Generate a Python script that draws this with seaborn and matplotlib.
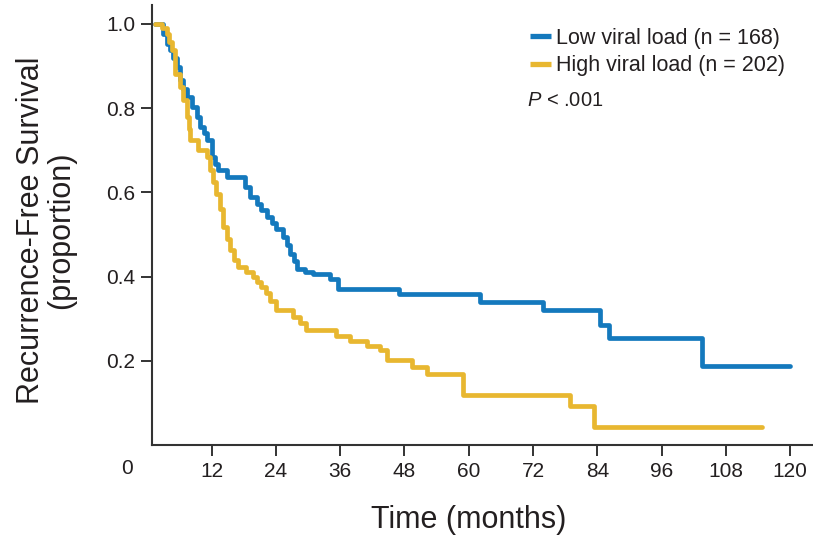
import matplotlib
matplotlib.use("Agg")
import matplotlib.pyplot as plt
from matplotlib.lines import Line2D
import seaborn as sns
import pandas as pd

# ---- data ----
low_time = [1.4, 3.0, 3.6, 4.2, 4.8, 5.5, 6.1, 6.7, 7.3, 8.3, 9.2, 9.8, 10.5, 11.1, 12.0,
            12.6, 13.2, 14.8, 18.2, 19.2, 20.4, 21.3, 22.3, 23.2, 24.1, 25.4, 26.0, 26.6,
            27.3, 27.9, 29.5, 31.0, 34.1, 35.6, 46.9, 62.1, 73.9, 84.5, 86.2, 103.5, 120.0]
low_surv = [1.0, 0.977, 0.953, 0.937, 0.92, 0.897, 0.866, 0.846, 0.826, 0.803, 0.779, 0.755,
            0.74, 0.724, 0.684, 0.668, 0.652, 0.636, 0.613, 0.59, 0.573, 0.557, 0.541,
            0.527, 0.514, 0.494, 0.474, 0.454, 0.436, 0.419, 0.41, 0.405, 0.395, 0.371,
            0.359, 0.339, 0.32, 0.286, 0.255, 0.187, 0.187]

high_time = [1.4, 2.7, 3.6, 4.0, 4.5, 5.2, 6.1, 6.7, 7.3, 7.7, 8.0, 9.5, 11.1, 11.7, 12.3,
             12.9, 13.5, 14.2, 14.8, 15.4, 16.2, 17.0, 18.5, 19.8, 20.5, 21.3, 22.1, 22.9,
             24.1, 27.2, 28.5, 29.7, 35.3, 37.8, 41.0, 43.4, 44.7, 49.4, 52.2, 59.0, 78.9,
             83.4, 114.7]
high_surv = [1.0, 0.99, 0.977, 0.957, 0.937, 0.882, 0.85, 0.819, 0.779, 0.75, 0.724, 0.70,
             0.684, 0.653, 0.625, 0.597, 0.56, 0.518, 0.49, 0.462, 0.44, 0.423, 0.41,
             0.399, 0.387, 0.375, 0.36, 0.343, 0.32, 0.304, 0.29, 0.272, 0.26, 0.248,
             0.236, 0.225, 0.201, 0.185, 0.168, 0.118, 0.0915, 0.042, 0.042]

groups = ["Low viral load (n = 168)", "High viral load (n = 202)"]
colors = ["#1479bd", "#e8b730"]
x_ticks = [12, 24, 36, 48, 60, 72, 84, 96, 108, 120]
y_ticks = [0.2, 0.4, 0.6, 0.8, 1.0]
y_tick_labels = ["0.2", "0.4", "0.6", "0.8", "1.0"]

df = pd.concat([
    pd.DataFrame({"time": low_time, "surv": low_surv, "group": groups[0]}),
    pd.DataFrame({"time": high_time, "surv": high_surv, "group": groups[1]}),
], ignore_index=True)

sns.set_style("ticks")
plt.rcParams["font.family"] = ["Liberation Sans", "DejaVu Sans"]
plt.rcParams["mathtext.fontset"] = "custom"
plt.rcParams["mathtext.it"] = "Liberation Sans:italic"
plt.rcParams["mathtext.rm"] = "Liberation Sans"

W, H = 813, 538
fig = plt.figure(figsize=(W / 100, H / 100), dpi=100)
left_px, right_px, top_px, bottom_px = 151.7, 812, 5, 445
aw, ah = right_px - left_px, bottom_px - top_px
ax = fig.add_axes([left_px / W, 1 - bottom_px / H, aw / W, ah / H])

sns.lineplot(data=df, x="time", y="surv", hue="group", palette=dict(zip(groups, colors)),
             drawstyle="steps-post", estimator=None, sort=True, linewidth=3.4,
             legend=False, ax=ax)

ax.set_xlim(0.8, 124.1)
ax.set_ylim(0, 1.045)
ax.set_xticks(x_ticks)
ax.set_xticklabels([str(t) for t in x_ticks])
ax.set_yticks(y_ticks)
ax.set_yticklabels(y_tick_labels)
txtcol = "#231f20"
ax.tick_params(axis="both", direction="out", length=8, width=1.4, color="#333333",
               labelsize=15, labelcolor=txtcol)
ax.tick_params(axis="x", pad=4)
ax.tick_params(axis="y", pad=4)
for s in ["top", "right"]:
    ax.spines[s].set_visible(False)
for s in ["left", "bottom"]:
    ax.spines[s].set_linewidth(1.5)
    ax.spines[s].set_color("#333333")

ax.set_xlabel("Time (months)", fontsize=22, color=txtcol)
ax.xaxis.label.set_va("center")
ax.xaxis.set_label_coords((469 - left_px) / aw, (bottom_px - 520) / ah)
ax.set_ylabel("Recurrence-Free Survival\n(proportion)", fontsize=22, color=txtcol,
              linespacing=1.0)
ax.yaxis.label.set_va("center")
ax.yaxis.set_label_coords((46 - left_px) / aw, (bottom_px - 230) / ah)

fig.text(127 / W, 1 - 468 / H, "0", ha="center", va="center", fontsize=15, color=txtcol)

handles = [Line2D([0], [0], color=c, lw=3.8, solid_capstyle="butt") for c in colors]
leg = ax.legend(handles, groups, loc="upper left",
                bbox_to_anchor=((519 - left_px) / aw, (bottom_px - 17) / ah),
                frameon=False, borderpad=0, handlelength=1.0, handletextpad=0.2,
                labelspacing=0.3, prop={"size": 15.5})
for t in leg.get_texts():
    t.set_color(txtcol)

fig.text(527 / W, 1 - 101 / H, r"$\it{P}$ < .001", fontsize=14.5, color=txtcol,
         va="center", ha="left")

fig.savefig("out.png", dpi=100)
